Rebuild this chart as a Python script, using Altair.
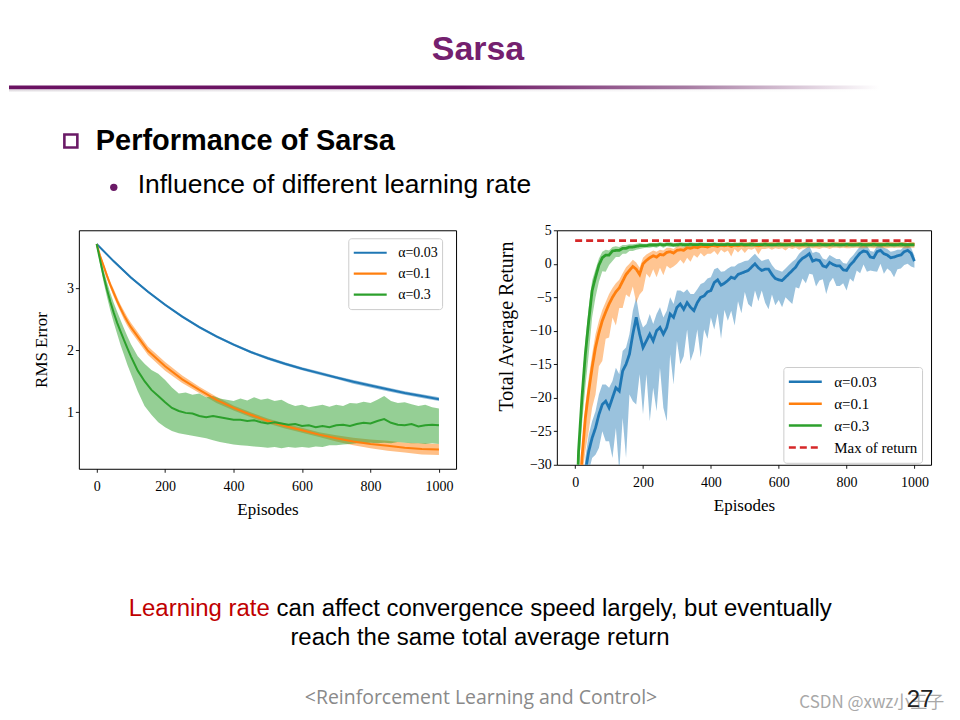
import altair as alt
import pandas as pd

SERIF = "Liberation Serif"
SANS = "Liberation Sans"

SERIES = ["α=0.03", "α=0.1", "α=0.3"]
COLORS = ["#1f77b4", "#ff7f0e", "#2ca02c"]
MAX_LABEL = "Max of return"
MAX_COLOR = "#d62728"
MAX_RETURN = 3.45

X_TICKS = [0, 200, 400, 600, 800, 1000]
L_Y_TICKS = [1, 2, 3]
R_Y_TICKS = [-30, -25, -20, -15, -10, -5, 0, 5]

# ---------------- left chart: RMS error ----------------
L_EP_BLUE = [0, 50, 100, 150, 200, 250, 300, 350, 400, 450, 500, 550, 600, 650, 700, 750, 800, 850, 900, 950, 1000]
L_BLUE = [3.71, 3.43, 3.17, 2.94, 2.73, 2.54, 2.37, 2.22, 2.09, 1.97, 1.87, 1.78, 1.70, 1.63, 1.56, 1.49, 1.43, 1.37, 1.31, 1.26, 1.21]
L_BLUE_HW = [0, 0.02, 0.02, 0.02, 0.02, 0.02, 0.02, 0.02, 0.02, 0.02, 0.025, 0.025, 0.025, 0.025, 0.025, 0.03, 0.03, 0.03, 0.03, 0.03, 0.03]

L_EP_ORANGE = [0, 10, 20, 30, 40, 50, 60, 70, 80, 90, 100, 150, 200, 250, 300, 350, 400, 450, 500, 550, 600, 650, 700, 750, 800, 850, 900, 950, 1000]
L_ORANGE = [3.71, 3.52, 3.36, 3.20, 3.05, 2.92, 2.79, 2.67, 2.56, 2.46, 2.37, 1.99, 1.74, 1.53, 1.36, 1.20, 1.07, 0.96, 0.86, 0.78, 0.71, 0.64, 0.58, 0.53, 0.49, 0.46, 0.43, 0.41, 0.40]
L_ORANGE_HW = [0, 0.03, 0.04, 0.05, 0.05, 0.06, 0.06, 0.06, 0.07, 0.07, 0.07, 0.07, 0.07, 0.06, 0.05, 0.05, 0.04, 0.04, 0.04, 0.04, 0.04, 0.04, 0.05, 0.06, 0.07, 0.08, 0.08, 0.09, 0.09]

L_EP_GREEN = [0, 10, 20, 30, 40, 50, 60, 70, 80, 90, 100,
              120, 140, 160, 180, 200, 220, 240, 260, 280, 300,
              320, 340, 360, 380, 400, 420, 440, 460, 480, 500,
              520, 540, 560, 580, 600, 620, 640, 660, 680, 700,
              720, 740, 760, 780, 800, 820, 840, 860, 880, 900,
              920, 940, 960, 980, 1000]
L_GREEN = [3.71, 3.45, 3.20, 2.98, 2.78, 2.60, 2.44, 2.30, 2.16, 2.03, 1.90,
           1.67, 1.50, 1.36, 1.26, 1.16, 1.07, 1.02, 0.99, 0.98, 0.94,
           0.92, 0.94, 0.92, 0.90, 0.88, 0.88, 0.86, 0.87, 0.84, 0.82,
           0.84, 0.82, 0.80, 0.81, 0.78, 0.79, 0.76, 0.78, 0.76, 0.79,
           0.80, 0.78, 0.81, 0.83, 0.82, 0.86, 0.89, 0.83, 0.80, 0.79,
           0.81, 0.77, 0.79, 0.80, 0.79]
L_GREEN_HI = [3.71, 3.52, 3.30, 3.10, 2.92, 2.76, 2.62, 2.48, 2.35, 2.22, 2.10,
              1.90, 1.78, 1.68, 1.62, 1.52, 1.40, 1.30, 1.32, 1.28, 1.30,
              1.24, 1.26, 1.22, 1.20, 1.18, 1.22, 1.19, 1.24, 1.20, 1.22,
              1.18, 1.20, 1.14, 1.10, 1.12, 1.08, 1.10, 1.12, 1.09, 1.12,
              1.10, 1.15, 1.14, 1.17, 1.15, 1.20, 1.26, 1.18, 1.15, 1.16,
              1.13, 1.10, 1.12, 1.08, 1.06]
L_GREEN_LO = [3.71, 3.38, 3.10, 2.86, 2.64, 2.44, 2.26, 2.08, 1.92, 1.76, 1.62,
              1.34, 1.10, 0.96, 0.84, 0.76, 0.70, 0.66, 0.64, 0.62, 0.60,
              0.58, 0.55, 0.52, 0.50, 0.48, 0.47, 0.46, 0.45, 0.44, 0.43,
              0.44, 0.42, 0.44, 0.43, 0.44, 0.43, 0.45, 0.44, 0.47, 0.47,
              0.48, 0.49, 0.50, 0.50, 0.51, 0.50, 0.51, 0.50, 0.52, 0.51,
              0.50, 0.50, 0.49, 0.50, 0.49]

# ---------------- right chart: total average return ----------------
R_EP = list(range(0, 1001, 10))
R_BLUE = [-45, -42, -36, -31, -28, -26, -24.5, -22.5, -21, -20.5,
          -21.5, -20, -18.5, -19, -16, -15, -13.5, -10.5, -8, -10.5,
          -12.5, -11.5, -10.5, -11.5, -10, -9.5, -10.5, -9.5, -7.5, -8,
          -6.5, -6, -6.8, -5.8, -6.5, -7, -5.8, -5, -4.8, -4.2,
          -4, -2.8, -2.4, -3.2, -2.9, -2.5, -2, -2.2, -1.6, -1.4,
          -1.2, -1, -0.5, 0, -0.6, -1, -0.8, -0.8, -1.6, -2.2,
          -2.4, -2.5, -2, -1.5, -1, -0.5, 0.3, 0.8, 1.1, 1.5,
          0.4, 0.6, 0.5, -0.3, -0.5, 0.2, -0.1, -0.3, -0.3, -0.9,
          -1, -0.2, 0.3, 1, 1.6, 1.9, 1.8, 1, 0.9, 1.8,
          2, 1.5, 1.3, 0.9, 1, 1.2, 1.3, 1.8, 2, 1.6,
          0.4]
R_BLUE_UP = [0, 0, 1, 2, 2.5, 2.5, 2.5, 3, 3, 2.5,
             3, 2.5, 3, 2.5, 3, 2.5, 3, 3.5, 3, 2.5,
             3, 2.5, 3, 2.5, 2.5, 3, 2.5, 2.5, 2.5, 2,
             2.5, 2, 2.5, 2, 2, 2.5, 2, 2, 2, 2,
             2, 2, 1.8, 2, 1.8, 1.8, 1.6, 1.8, 1.6, 1.6,
             1.6, 1.5, 1.5, 1.5, 1.5, 1.4, 1.4, 1.5, 1.4, 1.4,
             1.4, 1.3, 1.3, 1.3, 1.3, 1.2, 1.2, 1.2, 1.2, 1.2,
             1.2, 1.2, 1.1, 1.1, 1.1, 1.1, 1.1, 1, 1, 1,
             1, 1, 1, 1, 1, 0.9, 0.9, 0.9, 0.9, 0.9,
             0.9, 0.9, 0.9, 0.9, 0.9, 0.9, 0.8, 0.8, 0.8, 0.8,
             0.8]
R_BLUE_DN = [0, 0, 1, 2, 3, 3, 4, 5, 4, 6,
             5, 9, 6, 12, 7, 14, 6, 10, 13, 6,
             10, 5, 13, 7, 12, 6, 11, 14, 6, 10,
             5, 9, 7, 4, 8, 6, 4, 9, 5, 7,
             4, 7, 5, 8, 4, 6, 5, 7, 4, 6,
             3, 5, 6, 4, 5, 3, 5, 6, 3, 4,
             3, 4, 3, 4, 5, 3, 4, 3, 4, 3,
             2, 4, 3, 2, 4, 3, 2, 3, 3, 2,
             3, 2, 3, 2, 3, 2, 3, 2, 2, 3,
             2, 3, 2, 2, 3, 2, 2, 2, 2, 2,
             1]

R_ORANGE = [-45, -38, -29, -23, -19, -15.5, -12.5, -10.3, -8.5, -7.2,
            -6, -5, -4.2, -3.6, -2.6, -1.6, -1, -0.4, -0.8, -1.6,
            0, 0.5, 0.9, 1.2, 1, 1.4, 1.3, 1.7, 1.8, 1.6,
            2, 2.1, 2, 2.4, 2.3, 2.5, 2.4, 2.6, 2.6, 2.5,
            2.7, 2.7, 2.6, 2.8, 2.7, 2.8, 2.6, 2.8, 2.7, 2.8,
            2.8, 2.8, 2.9, 2.8, 2.7, 2.8, 2.9, 2.8, 2.9, 2.8,
            2.9, 2.8, 2.9, 2.9, 2.8, 2.9, 2.9, 2.8, 2.9, 2.9,
            2.9, 2.8, 2.9, 2.9, 2.9, 2.8, 2.9, 2.9, 2.9, 2.9,
            2.8, 2.9, 2.9, 2.9, 2.9, 2.8, 2.9, 2.9, 2.9, 2.9,
            2.9, 2.8, 2.9, 2.9, 2.9, 2.9, 2.9, 2.9, 2.8, 2.9,
            2.9]
R_ORANGE_UP = [0, 0, 1.5, 2, 2, 2, 2, 1.8, 1.6, 1.5,
               1.5, 1.4, 1.3, 1.2, 1.2, 1.1, 1, 1, 1, 1,
               0.9, 0.9, 0.8, 0.8, 0.8, 0.7, 0.7, 0.7, 0.6, 0.6,
               0.6, 0.6, 0.5, 0.5, 0.5, 0.5, 0.5, 0.5, 0.5, 0.5,
               0.4, 0.4, 0.4, 0.4, 0.4, 0.4, 0.4, 0.4, 0.4, 0.4,
               0.4, 0.4, 0.4, 0.4, 0.4, 0.4, 0.4, 0.4, 0.4, 0.4,
               0.4, 0.4, 0.4, 0.4, 0.4, 0.4, 0.4, 0.4, 0.4, 0.4,
               0.3, 0.4, 0.3, 0.4, 0.3, 0.4, 0.3, 0.4, 0.3, 0.4,
               0.3, 0.4, 0.3, 0.4, 0.3, 0.4, 0.3, 0.4, 0.3, 0.4,
               0.3, 0.4, 0.3, 0.4, 0.3, 0.4, 0.3, 0.4, 0.3, 0.4,
               0.3]
R_ORANGE_DN = [0, 0, 3, 5, 6, 6, 7, 5, 6, 4,
               5, 3, 5, 3, 4, 3, 4, 3, 5, 3,
               4, 2, 3, 2, 3, 2, 3, 2, 2.5, 2,
               2, 1.5, 2, 1.5, 2, 1.2, 1.5, 1, 1.5, 1,
               1.2, 0.8, 1.3, 0.7, 1, 0.8, 1.5, 0.6, 1, 0.6,
               1.2, 0.6, 0.8, 0.5, 1.3, 0.6, 0.7, 0.5, 0.8, 0.5,
               0.7, 0.5, 0.9, 0.5, 0.6, 0.5, 0.8, 0.5, 0.6, 0.5,
               0.6, 0.5, 0.7, 0.5, 0.5, 0.6, 0.5, 0.5, 0.6, 0.5,
               0.5, 0.6, 0.5, 0.5, 0.6, 0.5, 0.5, 0.5, 0.6, 0.5,
               0.5, 0.5, 0.6, 0.5, 0.5, 0.5, 0.5, 0.6, 0.5, 0.5,
               0.5]

R_GREEN = [-45, -28, -20, -13.5, -8.5, -4, -2, -0.2, 0.9, 1.3,
           1.3, 1.9, 2.0, 2.0, 2.3, 2.3, 2.5, 2.5, 2.6, 2.7,
           2.7, 2.7, 2.8, 2.8, 2.8, 2.9, 2.8, 2.9, 2.9, 2.8,
           2.85, 2.9, 2.85, 2.85, 2.9, 2.85, 2.85, 2.9, 2.85, 2.85,
           2.85, 2.9, 2.85, 2.85, 2.85, 2.9, 2.85, 2.85, 2.85, 2.9,
           2.85, 2.85, 2.9, 2.85, 2.85, 2.85, 2.9, 2.85, 2.85, 2.85,
           2.9, 2.85, 2.85, 2.85, 2.9, 2.85, 2.85, 2.85, 2.9, 2.85,
           2.85, 2.85, 2.9, 2.85, 2.85, 2.85, 2.9, 2.85, 2.85, 2.85,
           2.9, 2.85, 2.85, 2.85, 2.9, 2.85, 2.85, 2.85, 2.9, 2.85,
           2.85, 2.85, 2.9, 2.85, 2.85, 2.85, 2.9, 2.85, 2.85, 2.85,
           2.85]
R_GREEN_UP = [0, 1, 1.5, 2, 2, 1.5, 1.2, 1, 0.9, 0.8,
              0.7, 0.6, 0.6, 0.5, 0.5, 0.5, 0.4, 0.4, 0.4, 0.4,
              0.3, 0.3, 0.3, 0.3, 0.3, 0.3, 0.3, 0.3, 0.3, 0.3,
              0.3, 0.3, 0.3, 0.3, 0.3, 0.3, 0.3, 0.3, 0.3, 0.3,
              0.3, 0.3, 0.3, 0.3, 0.3, 0.3, 0.3, 0.3, 0.3, 0.3,
              0.3, 0.3, 0.3, 0.3, 0.3, 0.3, 0.3, 0.3, 0.3, 0.3,
              0.3, 0.3, 0.3, 0.3, 0.3, 0.3, 0.3, 0.3, 0.3, 0.3,
              0.3, 0.3, 0.3, 0.3, 0.3, 0.3, 0.3, 0.3, 0.3, 0.3,
              0.3, 0.3, 0.3, 0.3, 0.3, 0.3, 0.3, 0.3, 0.3, 0.3,
              0.3, 0.3, 0.3, 0.3, 0.3, 0.3, 0.3, 0.3, 0.3, 0.3,
              0.3]
R_GREEN_DN = [0, 3, 4, 5, 5, 4, 3, 2.5, 2, 2.5,
              1.5, 1.5, 1, 1, 0.8, 0.8, 0.6, 0.6, 0.5, 0.5,
              0.4, 0.3, 0.4, 0.3, 0.4, 0.3, 0.4, 0.3, 0.4, 0.3,
              0.4, 0.3, 0.4, 0.3, 0.4, 0.3, 0.4, 0.3, 0.4, 0.3,
              0.4, 0.3, 0.4, 0.3, 0.4, 0.3, 0.4, 0.3, 0.4, 0.3,
              0.4, 0.3, 0.4, 0.3, 0.4, 0.3, 0.4, 0.3, 0.4, 0.3,
              0.4, 0.3, 0.4, 0.3, 0.4, 0.3, 0.4, 0.3, 0.4, 0.3,
              0.4, 0.3, 0.4, 0.3, 0.4, 0.3, 0.4, 0.3, 0.4, 0.3,
              0.4, 0.3, 0.4, 0.3, 0.4, 0.3, 0.4, 0.3, 0.4, 0.3,
              0.4, 0.3, 0.4, 0.3, 0.4, 0.3, 0.4, 0.3, 0.4, 0.3,
              0.3]
MAX_EP = [0, 1000]


def frame(series, eps, vals, los, his):
    return pd.DataFrame({"episode": eps, "value": vals, "lo": los, "hi": his, "series": series})


left_df = pd.concat([
    frame(SERIES[0], L_EP_BLUE, L_BLUE,
          [v - w for v, w in zip(L_BLUE, L_BLUE_HW)], [v + w for v, w in zip(L_BLUE, L_BLUE_HW)]),
    frame(SERIES[1], L_EP_ORANGE, L_ORANGE,
          [v - w for v, w in zip(L_ORANGE, L_ORANGE_HW)], [v + w for v, w in zip(L_ORANGE, L_ORANGE_HW)]),
    frame(SERIES[2], L_EP_GREEN, L_GREEN, L_GREEN_LO, L_GREEN_HI),
], ignore_index=True)

right_df = pd.concat([
    frame(SERIES[0], R_EP, R_BLUE, [v - d for v, d in zip(R_BLUE, R_BLUE_DN)], [v + u for v, u in zip(R_BLUE, R_BLUE_UP)]),
    frame(SERIES[1], R_EP, R_ORANGE, [v - d for v, d in zip(R_ORANGE, R_ORANGE_DN)], [v + u for v, u in zip(R_ORANGE, R_ORANGE_UP)]),
    frame(SERIES[2], R_EP, R_GREEN, [v - d for v, d in zip(R_GREEN, R_GREEN_DN)], [v + u for v, u in zip(R_GREEN, R_GREEN_UP)]),
], ignore_index=True)
right_lines = pd.concat([
    right_df[["episode", "value", "series"]],
    pd.DataFrame({"episode": MAX_EP, "value": [MAX_RETURN, MAX_RETURN], "series": MAX_LABEL}),
], ignore_index=True)

ONE = pd.DataFrame({"k": [0]})


def txt(s, x, y, **kw):
    return alt.Chart(ONE).mark_text(text=s, baseline="middle", **kw).encode(x=alt.value(x), y=alt.value(y))


# ---------- slide decorations (positions relative to left plot origin) ----------
bg = alt.Chart(ONE).mark_rect(opacity=0).encode(
    x=alt.value(-70), x2=alt.value(874), y=alt.value(-221), y2=alt.value(477))
bar = alt.Chart(ONE).mark_rect(fill=alt.LinearGradient(
    gradient="linear", x1=0, x2=1, y1=0, y2=0,
    stops=[alt.GradientStop(color="#6a1262", offset=0),
           alt.GradientStop(color="#6c1564", offset=0.52),
           alt.GradientStop(color="#a77ca3", offset=0.78),
           alt.GradientStop(color="#ffffff", offset=1)])).encode(
    x=alt.value(-70), x2=alt.value(802), y=alt.value(-145), y2=alt.value(-141))
shadow = alt.Chart(ONE).mark_rect(fill=alt.LinearGradient(
    gradient="linear", x1=0, x2=1, y1=0, y2=0,
    stops=[alt.GradientStop(color="#e4e0e4", offset=0),
           alt.GradientStop(color="#ffffff", offset=1)])).encode(
    x=alt.value(-70), x2=alt.value(802), y=alt.value(-141), y2=alt.value(-139))
square = alt.Chart(ONE).mark_rect(filled=False, stroke="#6a1a66", strokeWidth=2.6).encode(
    x=alt.value(-14.5), x2=alt.value(-1.5), y=alt.value(-96), y2=alt.value(-83))
dot = alt.Chart(ONE).mark_point(filled=True, shape="circle", size=55, color="#6a1a66", opacity=1).encode(
    x=alt.value(35), y=alt.value(-43))

texts = [
    txt("Sarsa", 400, -181, font=SANS, fontSize=34, fontWeight="bold", color="#74206e", align="center"),
    txt("Performance of Sarsa", 17, -89, font=SANS, fontSize=29, fontWeight="bold", color="black", align="left"),
    txt("Influence of different learning rate", 59, -45, font=SANS, fontSize=26.5, color="black", align="left"),
    txt("Learning rate", 50, 380, font=SANS, fontSize=24, color="#c00000", align="left"),
    txt("can affect convergence speed largely, but eventually", 198, 380, font=SANS, fontSize=24, color="black", align="left"),
    txt("reach the same total average return", 402, 409, font=SANS, fontSize=24, color="black", align="center"),
    txt("<Reinforcement Learning and Control>", 403, 469, font="Open Sans", fontSize=19.5, color="#8a8a8a", align="center"),
    txt("CSDN @xwz小王子", 722, 474, font="Noto Sans CJK SC", fontSize=17, color="#a8a8a8", align="left"),
    txt("27", 843, 471, font=SANS, fontSize=24, color="#222222", align="center"),
]

# band fills use the same colours, declared in reverse order so that their
# (legend-less) scale is not merged with the line legend
BAND_DOMAIN = SERIES[::-1]
BAND_RANGE = COLORS[::-1]

# ---------- left chart ----------
l_xscale = alt.Scale(domain=[-52, 1050], nice=False, zero=False)
l_yscale = alt.Scale(domain=[0.09, 3.93], nice=False, zero=False)
l_xaxis = alt.Axis(values=X_TICKS, title="Episodes", format="d", labelPadding=7, titlePadding=8)
l_yaxis = alt.Axis(values=L_Y_TICKS, title="RMS Error", format="d", labelPadding=2, titlePadding=16)

leg_left = alt.Legend(title=None, orient="none", legendX=270, legendY=8, symbolType="stroke",
                      symbolSize=1089, symbolStrokeWidth=2.2, clipHeight=21, rowPadding=0,
                      labelFont=SERIF, labelFontSize=14, labelColor="black", labelOffset=10,
                      padding=4, fillColor="rgba(255,255,255,0.85)", strokeColor="#cccccc",
                      cornerRadius=3, labelLimit=200)

l_band = alt.Chart(left_df).mark_area(opacity=0.5).encode(
    x=alt.X("episode:Q", scale=l_xscale, axis=l_xaxis),
    y=alt.Y("lo:Q", scale=l_yscale, axis=l_yaxis),
    y2=alt.Y2("hi:Q"),
    fill=alt.Fill("series:N", scale=alt.Scale(domain=BAND_DOMAIN, range=BAND_RANGE), legend=None),
)
l_line = alt.Chart(left_df).mark_line(strokeWidth=2).encode(
    x=alt.X("episode:Q", scale=l_xscale, axis=l_xaxis),
    y=alt.Y("value:Q", scale=l_yscale, axis=l_yaxis),
    color=alt.Color("series:N", scale=alt.Scale(domain=SERIES, range=COLORS), legend=leg_left),
)
left = alt.layer(bg, bar, shadow, square, dot, *texts, l_band, l_line).properties(width=378, height=239)

# ---------- right chart ----------
SER4 = SERIES + [MAX_LABEL]
r_xscale = alt.Scale(domain=[-54, 1049], nice=False, zero=False)
r_yscale = alt.Scale(domain=[-30, 5], nice=False, zero=False)
r_xaxis = alt.Axis(values=X_TICKS, title="Episodes", format="d", labelPadding=7, titlePadding=8)
r_yaxis = alt.Axis(values=R_Y_TICKS, title="Total Average Return", format="d", labelPadding=2,
                   titlePadding=13, titleFontSize=20, titleY=96)

leg_right = alt.Legend(title=None, orient="none", legendX=227, legendY=137, symbolType="stroke",
                       symbolSize=1089, symbolStrokeWidth=2.5, clipHeight=21.5, rowPadding=0,
                       labelFont=SERIF, labelFontSize=15, labelColor="black", labelOffset=11,
                       padding=4, fillColor="rgba(255,255,255,0.85)", strokeColor="#cccccc",
                       cornerRadius=3, labelLimit=200)

r_band = alt.Chart(right_df).mark_area(opacity=0.45, clip=True).encode(
    x=alt.X("episode:Q", scale=r_xscale, axis=r_xaxis),
    y=alt.Y("lo:Q", scale=r_yscale, axis=r_yaxis),
    y2=alt.Y2("hi:Q"),
    fill=alt.Fill("series:N", scale=alt.Scale(domain=BAND_DOMAIN, range=BAND_RANGE), legend=None),
)
r_line = alt.Chart(right_lines).mark_line(strokeWidth=2.8, clip=True).encode(
    x=alt.X("episode:Q", scale=r_xscale, axis=r_xaxis),
    y=alt.Y("value:Q", scale=r_yscale, axis=r_yaxis),
    color=alt.Color("series:N", scale=alt.Scale(domain=SER4, range=COLORS + [MAX_COLOR]), legend=leg_right),
    strokeDash=alt.StrokeDash("series:N", scale=alt.Scale(domain=SER4, range=[[1, 0], [1, 0], [1, 0], [7, 4]]),
                              legend=leg_right),
)
right = alt.layer(r_band, r_line).properties(width=375, height=235)

chart = (
    alt.hconcat(left, right, spacing=101, bounds="flush")
    .resolve_scale(color="independent", fill="independent", strokeDash="independent")
    .resolve_legend(color="independent", fill="independent", strokeDash="independent")
    .properties(padding=0, background="white")
    .configure_view(stroke="black", strokeWidth=1)
    .configure_axis(domain=False, grid=False, ticks=True, tickColor="black", tickSize=3.5, tickWidth=0.9,
                    labelFont=SERIF, labelFontSize=14, labelColor="black",
                    titleFont=SERIF, titleFontSize=17, titleFontWeight="normal", titleColor="black")
)

chart.save("out.html", embed_options={"renderer": "svg", "actions": False})
